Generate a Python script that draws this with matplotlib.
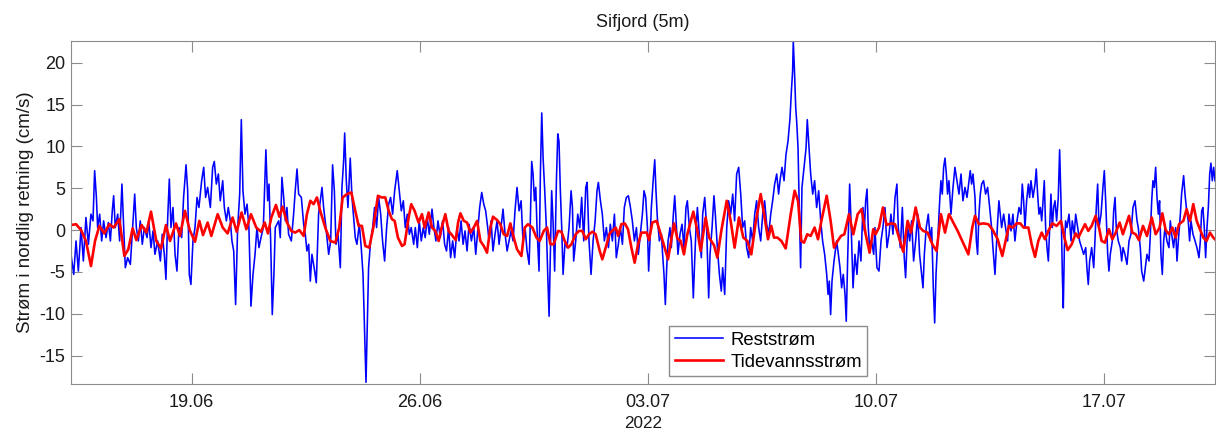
import numpy as np
import matplotlib
matplotlib.use("Agg")
import matplotlib.pyplot as plt
import matplotlib.dates as mdates

plt.rcParams['font.family'] = ['Liberation Sans', 'DejaVu Sans']
plt.rcParams['axes.unicode_minus'] = False

# hours after 2022-06-15 00:00, current (cm/s)
rest_points = [
    (7.1, -2.9), (9.1, -5.3), (10.8, -1.3), (12.5, -4.9), (14.5, 0.3), (16.2, -3.7), (18.1, 1.5), (19.9, -1.7),
    (21.8, 1.9), (23.3, 1.1), (24.5, 7.1), (25.8, 3.9), (26.7, 0.3), (28.2, 1.9), (29.7, -1.3), (31.1, 1.1),
    (32.9, -0.9), (34.6, 0.9), (36.1, -1.3), (37.5, 2.3), (38.5, 4.1), (39.7, 0.3), (41.5, 1.9), (42.9, -1.3),
    (44.6, 5.5), (45.9, 0.3), (47.1, -4.5), (48.8, -3.3), (50.8, -4.1), (52.5, 0.3), (54.0, 4.3), (55.2, 0.3),
    (56.7, -1.3), (58.1, 1.1), (59.6, -1.7), (61.1, 0.3), (63.1, -0.9), (64.3, 1.1), (66.0, -2.1), (67.5, -0.1),
    (68.9, -2.9), (70.9, -1.3), (72.9, -3.7), (74.3, -0.5), (75.8, -2.9), (77.0, -5.9), (78.3, 1.5), (79.5, 6.1),
    (80.7, 0.3), (82.2, 2.7), (83.7, -2.9), (85.1, -4.9), (86.6, 0.3), (88.6, -0.9), (90.0, 3.9), (91.8, 7.8),
    (93.0, 4.7), (94.2, -5.3), (95.4, -6.5), (96.9, -1.3), (98.4, 0.3), (99.9, 3.9), (101.3, 2.7), (103.3, 5.9),
    (104.8, 7.5), (106.2, 3.9), (107.7, 5.1), (109.7, 2.7), (111.4, 7.5), (112.6, 8.2), (114.1, 5.5), (115.6, 6.7),
    (117.0, 3.5), (118.8, 5.9), (120.0, 2.7), (121.5, 1.1), (122.9, 2.7), (124.4, 1.1), (125.6, -1.3), (126.9, -2.5),
    (128.3, -8.9), (129.8, 0.3), (131.3, 4.3), (132.5, 13.2), (133.7, 4.7), (135.2, 1.9), (136.7, 3.1), (138.1, 0.3),
    (139.6, -9.1), (141.1, -5.3), (142.6, -2.9), (144.0, 0.3), (145.5, -2.1), (147.0, -0.9),
    (148.7, 0.3), (150.6, 9.6), (151.9, 3.5), (152.9, 5.5), (154.1, -1.3), (155.3, -10.1), (156.5, -5.3), (157.5, 0.3),
    (160.0, 1.1), (161.2, -0.9), (162.4, 6.3), (163.7, 3.9), (164.9, 1.1), (166.1, 2.7), (167.3, -0.5), (169.3, -1.3),
    (171.0, 1.9), (172.2, 4.7), (173.5, 7.3), (174.7, 4.3), (176.7, 3.9), (178.4, 0.7), (179.6, -0.5), (180.8, -2.5),
    (182.1, -1.7), (183.3, -6.1), (184.5, -2.9), (186.5, -4.9), (187.7, -6.3), (189.4, 1.9), (191.9, 5.1), (193.1, 2.7),
    (194.8, 0.3), (196.8, -2.9), (198.3, -1.3), (199.7, 7.8), (201.0, 4.7), (202.2, -1.7), (203.7, -0.5), (205.4, -4.5),
    (206.6, 5.1), (207.8, 8.2), (208.6, 11.6), (209.8, 5.9), (211.0, 2.7), (212.7, 8.6), (214.0, 3.9), (215.4, 1.1),
    (216.4, -0.9), (217.6, -1.7), (219.4, 0.7), (220.8, -2.1), (222.1, -5.3), (223.3, -12.5), (224.3, -18.2),
    (225.5, -9.3), (226.2, -4.5), (227.7, -1.3), (229.2, 0.3), (230.6, 2.7), (232.1, 0.3), (233.6, 3.9), (235.1, 1.9),
    (236.5, -1.3), (238.0, -3.7), (239.5, 0.3), (241.0, 3.1), (242.4, 3.9), (243.9, 1.9), (245.4, 4.7), (247.3, 7.1),
    (248.8, 4.7), (250.3, 2.3), (251.8, 3.5), (253.2, 0.3), (254.7, 1.9), (256.2, -0.5), (257.6, 0.3), (259.4, -1.7),
    (260.6, 0.3), (262.1, -2.1), (263.5, 1.1), (265.0, -1.3), (266.5, 0.3), (267.9, -0.9), (269.4, 1.5), (270.9, -0.5),
    (272.9, 2.5), (274.3, 0.3), (275.8, -1.3), (277.3, 1.1), (279.0, -0.9), (280.7, 1.1), (282.2, -1.7), (283.6, -2.5),
    (285.1, 0.3), (286.6, -3.3), (288.1, -1.3),
    (289.6, -3.3), (291.3, 0.3), (292.8, -1.3), (294.3, 1.1), (295.8, -1.7), (297.2, -0.1), (298.7, -2.5), (300.2, 0.7),
    (301.9, -1.3), (303.6, 0.3), (305.1, -2.9), (306.8, 0.3), (308.0, 2.7), (309.5, 4.5), (311.0, 3.1), (312.4, 2.3),
    (313.9, 0.3), (314.9, -1.3), (316.4, 1.1), (317.8, -2.5), (319.3, -0.5), (320.8, 1.1), (322.3, -1.7), (323.7, 0.3),
    (325.2, 2.5), (326.7, -0.5), (328.2, -2.5), (329.6, -1.3), (331.1, -0.1), (332.6, -1.3), (334.0, 2.3), (335.5, 5.1),
    (337.0, 2.3), (338.5, 3.5), (339.9, -1.3), (341.4, 0.3), (342.9, -2.5), (344.4, -4.1), (345.3, 1.1), (346.3, 8.2),
    (347.3, 6.7), (348.3, 3.5), (349.3, 5.1), (350.2, 0.3), (351.7, -4.9), (352.7, 6.7), (353.7, 14.0), (354.7, 8.6),
    (355.9, 4.7), (357.1, 0.3), (358.1, -5.3), (359.1, -10.3), (360.1, -2.1), (361.0, 4.7), (362.0, 1.1), (363.2, -4.9),
    (364.5, 5.9), (365.5, 11.5), (366.4, 10.6), (367.4, 4.7), (368.4, 0.3), (369.4, -5.3), (370.9, -1.3), (372.3, -2.1),
    (373.8, 0.3), (375.3, 4.7), (376.3, 2.7), (377.2, -3.7), (378.7, -1.3), (380.2, 1.9), (381.7, 0.3), (383.1, 3.9),
    (384.6, -1.3), (386.1, 5.1), (387.1, 5.7), (388.5, -1.3), (390.0, -5.3), (391.5, -1.3), (393.0, 1.1), (394.4, 4.7),
    (395.4, 5.7), (396.9, 3.5), (398.3, 1.9), (399.8, -1.3), (401.3, 0.3), (402.8, -2.1), (404.2, 0.7), (405.7, -1.3),
    (407.2, 1.9), (408.6, -3.3), (410.1, -1.7), (411.6, 0.3), (413.1, -1.7), (414.5, 2.7), (416.0, 3.9), (417.5, 4.1),
    (419.0, 2.7), (420.4, 1.1), (421.9, -1.3), (423.4, 0.3), (424.8, -2.9), (426.3, -0.5), (427.8, 1.9),
    (429.0, 4.7), (430.2, 3.9), (431.5, 0.3), (432.4, -4.9), (433.4, -1.3), (434.4, 2.7), (435.9, 6.3), (436.9, 8.4),
    (437.8, 4.7), (438.8, 1.5), (440.3, -1.3), (441.8, -0.5), (442.7, -2.9), (443.7, -5.3), (444.7, -8.9), (445.7, -4.5),
    (446.7, -1.3), (448.1, 0.3), (449.1, -2.1), (450.6, 1.9), (451.6, 4.1), (452.6, 1.1), (454.0, -2.9), (455.5, -0.5),
    (457.0, 0.7), (458.4, -2.1), (459.9, 2.7), (460.9, 3.5), (462.4, 0.3), (463.8, -1.3), (465.3, -8.1), (466.3, -3.7),
    (467.3, 0.3), (468.3, 2.7), (469.7, -0.5), (471.2, -3.3), (472.2, 1.9), (473.7, 3.9), (475.1, 0.3), (476.6, -8.1),
    (477.6, -2.9), (479.1, 0.3), (480.5, 4.1), (481.5, 1.9), (483.0, -2.1), (484.5, -5.3), (485.9, -7.3), (486.9, -4.5),
    (488.4, -7.7), (489.9, 0.3), (491.3, 3.5), (492.8, 1.9), (494.3, 4.3), (495.7, 1.1), (497.2, 6.7), (498.7, 7.5),
    (500.2, 4.3), (501.6, 0.3), (503.1, 1.1), (504.6, -2.1), (506.1, -3.3), (507.5, 0.3), (509.0, -1.3), (510.5, 1.9),
    (511.9, 3.5), (513.4, 0.3), (514.9, -1.3), (516.4, 1.9), (517.8, 3.5), (519.3, 0.7), (520.8, -0.5), (522.3, 1.9),
    (523.7, 3.5), (525.2, 5.5), (526.7, 6.7), (528.1, 4.3), (529.1, 5.9), (530.6, 7.5), (532.1, 5.9), (533.5, 9.0),
    (535.0, 10.6), (536.5, 13.4), (537.5, 16.6), (538.4, 19.0), (538.9, 22.6), (539.7, 19.4), (540.7, 14.6),
    (541.4, 13.0), (542.4, 9.8), (543.4, 1.9), (544.3, -4.5), (545.3, 5.1), (546.8, 7.5), (548.3, 9.8), (549.2, 13.2),
    (550.2, 10.6), (551.7, 6.7), (553.2, 4.3), (554.6, 5.9), (556.1, 2.7), (557.6, 4.7), (559.1, 1.1), (560.5, -1.3),
    (562.0, -2.9), (563.5, -5.3), (564.5, -7.7), (565.4, -6.1), (566.4, -10.1), (567.4, -6.1), (568.9, -3.7),
    (570.8, -1.3), (572.1, -2.9), (573.3, -4.5), (574.5, -6.9), (575.7, -5.3), (577.0, -7.7), (577.9, -10.9),
    (578.9, -3.7), (580.4, 5.5), (581.4, 1.1), (582.9, -6.9), (584.3, -2.9), (585.8, -5.3), (587.3, -1.3), (588.7, -3.7),
    (590.2, 2.7), (591.2, -0.1), (592.2, 3.5), (593.2, 4.9), (594.1, 0.3), (595.1, -2.1), (596.6, -1.3), (598.1, -2.9),
    (599.0, 0.3), (600.5, -4.5), (602.0, -4.9), (603.5, -1.3), (604.9, 0.3), (606.4, 2.7), (607.9, -2.1), (609.4, -0.5),
    (610.8, 1.9), (612.3, -0.5), (613.8, 3.9), (615.2, 5.5), (616.2, 0.3), (617.7, -2.1), (619.2, 2.7), (620.6, -3.3),
    (621.6, -5.7), (623.1, 0.3), (624.6, -1.3), (626.0, 1.1), (627.5, -3.7), (629.0, -1.3), (630.5, 1.9), (631.9, -2.9),
    (633.4, -5.3), (634.4, -6.9), (635.4, -2.9), (636.8, 0.3), (638.3, 1.9), (639.8, -1.3), (640.8, 0.3), (642.0, -6.9),
    (643.0, -11.1), (644.0, -5.3), (645.2, -1.3), (646.7, 3.5), (647.6, 5.9), (648.6, 4.3), (649.6, 7.5), (650.6, 8.6),
    (651.6, 6.7), (652.5, 4.3), (653.5, 5.9), (655.0, 1.9), (656.5, 5.1), (657.9, 7.5), (659.4, 5.9), (660.9, 4.3),
    (662.4, 6.7), (663.8, 3.5), (665.3, 5.1), (666.8, 3.9), (668.3, 5.9), (669.2, 7.1), (670.2, 5.5), (671.2, 6.7),
    (672.7, 3.9), (673.7, -1.3), (674.6, -2.9), (675.6, 1.9), (676.6, 4.3), (677.6, 5.5), (679.0, 5.9), (680.5, 4.3),
    (682.0, 5.1), (683.5, 2.7), (684.9, 0.3), (685.9, -2.1), (687.4, -5.3), (688.4, -2.1), (689.4, 1.1), (690.3, 3.5),
    (691.3, 1.9), (692.3, 0.3), (693.8, 1.9), (695.2, 0.3), (696.7, -1.3), (697.7, 1.9), (699.2, -0.1), (700.6, 1.9),
    (702.1, -1.3), (703.6, 1.1), (705.1, 2.7), (706.5, 1.9), (707.5, 5.5), (708.5, 3.5), (709.5, 0.3),
    (710.7, 3.5), (712.0, 5.5), (712.9, 3.9), (713.9, 5.9), (715.4, 3.9), (716.9, 5.5), (717.8, 7.3), (718.8, 4.3),
    (719.8, 1.9), (720.8, 2.7), (721.8, 1.1), (722.8, 3.5), (723.7, 5.9), (724.7, 0.3), (725.7, -2.1), (726.7, -3.7),
    (727.7, 0.3), (728.6, 4.3), (729.6, 0.3), (730.6, 2.7), (731.6, 3.5), (732.8, 1.1), (734.0, 3.9), (735.0, 9.6),
    (736.0, 3.5), (737.0, -5.3), (737.7, -9.3), (738.5, -2.1), (739.4, 1.1), (740.4, 0.3), (741.9, 1.9), (743.4, -1.3),
    (744.3, 1.1), (745.8, -0.5), (746.8, 1.9), (748.3, 0.3), (749.7, -1.3), (751.2, -2.1), (752.7, -2.9), (754.2, -2.1),
    (755.1, -4.5), (756.1, -6.5), (757.1, -3.7), (758.6, -2.1), (760.1, -4.5), (761.0, -1.3), (762.0, 2.7), (763.0, 5.5),
    (764.0, 0.3), (765.5, 1.9), (766.9, 5.1), (767.9, 7.1), (768.9, 3.5), (770.4, -2.9), (771.3, -4.9), (772.3, -2.9),
    (773.8, -1.3), (774.8, 2.3), (775.8, 3.9), (776.7, 0.3), (778.2, -1.3), (779.7, -2.1), (780.7, -3.7), (781.7, -2.1),
    (783.1, -2.9), (784.6, -4.1), (786.1, -1.3), (787.5, -0.5), (789.0, 2.7), (790.5, 3.5), (792.0, 1.1), (792.9, 0.3),
    (794.4, -2.1), (795.4, -4.9), (796.9, -6.1), (797.8, -4.9), (799.3, -2.9), (800.8, -3.7), (801.8, -0.5), (802.8, 3.5),
    (803.7, 5.9), (804.7, 5.1), (805.7, 7.5), (806.7, 3.9), (807.7, 1.9), (808.6, 3.5), (809.6, -2.9), (810.6, -5.3),
    (811.6, -1.3), (812.6, 0.3), (814.0, -1.3), (815.5, -2.1), (816.5, 1.1), (817.5, -0.5), (818.9, -2.1), (820.4, 0.3),
    (821.4, -3.7), (822.4, -1.3), (823.9, 1.9), (824.8, 4.3), (826.3, 6.5), (827.3, 4.3), (828.3, 2.7), (829.7, 1.1),
    (830.7, -1.3), (831.7, 1.1), (833.2, -0.5), (834.7, -1.3), (836.1, -2.1), (837.6, -3.3), (838.6, -1.3), (839.6, 2.3),
    (840.5, 2.7), (841.5, 0.3), (842.5, -3.3), (843.5, 0.3), (844.5, 2.7), (845.5, 6.7), (846.4, 8.0), (847.4, 5.9),
    (848.4, 7.5), (849.4, 5.9),
]

tide_points = [
    (7.1, 0.6), (10.8, 0.7), (14.5, 0.0), (18.1, -1.3), (21.8, -4.3), (24.8, -1.3), (28.0, 0.5), (31.6, -0.4),
    (35.3, 0.7), (38.5, 0.3), (42.7, 1.3), (46.4, -3.1), (49.3, -2.3), (52.5, 0.2), (55.2, -1.2), (59.1, 0.6),
    (62.6, -0.3), (66.0, 2.2), (69.9, -1.3), (73.4, -2.2), (77.0, 0.6), (80.0, -1.3), (84.4, 0.8), (87.3, -0.7),
    (91.0, 2.3), (94.5, 0.0), (98.4, -1.4), (101.6, 1.1), (104.3, -0.6), (107.7, 0.9), (110.4, -0.7), (115.1, 1.9),
    (118.8, 0.3), (122.4, -0.4), (126.1, 1.5), (129.1, -0.2), (132.7, 2.1), (136.2, 0.1), (139.6, 1.9), (143.5, 0.3),
    (147.0, -0.2), (149.7, 0.9), (152.1, -0.4), (154.6, 1.5), (158.0, 3.0), (160.5, 1.6), (162.9, 2.8), (166.1, 0.9),
    (169.3, -0.1), (172.2, -0.3), (175.2, 0.0), (178.4, -0.7), (180.8, 1.9), (183.3, 3.5), (185.7, 3.1), (188.2, 3.9),
    (190.6, 2.3), (194.3, 0.3), (198.0, -1.3), (201.7, -1.5), (204.6, 0.3), (207.1, 3.9), (210.3, 4.3), (213.5, 4.5),
    (216.4, 2.3), (218.9, 0.5), (221.3, 0.5), (223.8, -1.9), (226.7, -2.1), (229.7, 0.3), (233.1, 4.1), (235.6, 3.9),
    (238.5, 3.9), (241.0, 2.3), (243.4, 1.3), (245.4, 1.1), (247.8, -0.9), (250.8, -1.9), (252.7, -1.7), (255.7, 1.5),
    (257.6, 3.1), (260.1, 2.3), (263.0, 0.9), (265.5, 1.9), (267.5, 0.3), (270.4, 2.1), (272.9, 0.3), (275.3, -0.1),
    (277.8, -1.3), (279.7, 0.1), (282.7, 1.9), (285.1, -0.1), (287.1, -0.5),
    (290.4, -1.2), (292.1, 0.9), (293.8, 2.0), (296.3, 1.1), (298.7, 0.9), (301.2, -0.3), (303.6, 0.3), (306.1, 1.1),
    (308.5, -1.3), (311.0, -1.9), (313.4, -2.7), (315.9, 0.3), (317.8, 1.6), (320.8, 1.2), (323.2, 0.7), (325.7, -0.5),
    (328.2, -0.7), (330.6, 0.8), (333.1, -0.9), (335.5, -2.3), (338.7, -3.1), (341.2, 0.3), (343.6, 0.7), (346.8, 0.3),
    (349.8, -0.9), (352.2, -1.3), (355.2, -0.1), (357.6, 0.3), (360.1, -1.7), (362.5, -1.7), (365.7, -0.1),
    (368.2, -0.2), (370.6, -1.3), (373.1, -2.1), (375.5, -1.7), (378.7, -0.5), (381.2, -0.1), (383.6, -0.1),
    (386.1, -1.1), (388.5, -0.5), (391.0, -0.2), (393.4, -0.5), (396.4, -2.5), (398.3, -3.5), (400.8, -2.1),
    (403.7, -0.4), (406.2, 0.0), (408.2, 0.3), (409.9, -0.7), (412.3, 0.7), (414.8, 0.8), (417.2, 0.1), (419.7, -2.1),
    (422.1, -3.9), (424.6, -1.7), (427.1, -0.3),
    (431.0, -0.3), (432.7, -1.2), (435.1, 0.9), (438.3, 1.1), (441.3, -0.5), (444.2, -2.1), (446.7, -3.5),
    (449.1, -1.1), (451.1, 0.8), (453.5, -1.0), (456.0, -1.3), (458.4, -2.9), (460.9, -0.5), (465.3, 2.2),
    (468.3, -0.1), (470.7, -2.5), (474.4, 1.5), (476.9, -0.9), (480.5, -1.8), (483.0, -3.3), (485.9, -0.1),
    (489.9, 3.5), (492.8, 1.1), (495.7, -2.1), (498.9, 1.5), (502.1, -0.9), (505.1, -1.3), (508.0, -2.9),
    (511.2, 0.9), (514.9, 4.3), (517.8, 1.5), (520.3, -1.1), (522.7, 0.5), (524.7, -0.9), (527.2, -0.9),
    (530.1, -1.3), (533.3, -2.2), (537.0, 1.9), (539.9, 4.7), (542.4, 3.5), (544.8, -1.3), (546.8, -1.5),
    (549.2, -0.5), (551.7, -0.7), (554.6, 0.3), (557.1, -1.1), (559.6, 1.1), (563.5, 4.1), (566.4, 1.1),
    (568.9, -2.1),
    (571.6, -1.3), (574.0, -0.7), (576.5, -0.5), (579.9, 1.9), (583.1, -0.5), (586.3, 1.9), (589.2, 2.5),
    (592.2, -0.5), (595.1, -2.7), (597.8, 0.1), (599.5, -0.5), (602.0, 0.3), (604.9, 2.7), (607.6, 0.6),
    (610.8, 0.8), (613.8, 0.7), (617.5, -1.3), (619.9, -2.6), (623.1, 1.1), (625.6, -0.3), (629.0, 2.7),
    (632.2, 0.3), (634.6, -0.1), (637.8, -0.3), (641.3, -1.7), (644.4, -2.5), (647.6, 1.9), (650.6, -0.3),
    (653.5, 1.9), (656.7, 0.9), (659.9, -0.1), (663.3, -1.3), (667.8, -2.9), (670.7, 0.3), (672.7, 1.7),
    (675.6, 0.7), (678.8, 0.8), (682.5, 0.7), (685.4, 0.1), (689.4, -1.1), (692.8, -3.1), (695.2, -1.3),
    (697.7, 0.5), (700.6, 0.3), (703.3, 0.8), (706.0, 0.8), (708.5, 0.3),
    (712.0, 0.3), (714.4, -1.7), (716.9, -3.2), (719.3, -1.3), (721.8, -0.3), (724.2, -1.1), (726.7, -0.1),
    (729.6, 0.8), (732.8, 0.5), (736.0, 1.1), (738.5, -0.9), (740.9, -2.4), (743.9, -1.7), (746.8, -0.4),
    (748.8, -0.9), (751.2, -0.1), (753.7, 0.7), (756.1, -0.1), (758.6, 0.5), (761.5, 1.7), (764.0, 0.3),
    (765.9, -1.3), (768.4, -1.5), (771.3, 0.1), (773.8, -1.1), (776.3, -0.3), (779.2, 0.9), (781.6, -0.5),
    (784.1, 0.7), (786.1, 1.7), (788.5, -0.3), (791.0, -0.5), (793.4, -1.2), (796.4, 0.5), (799.3, -0.7),
    (802.8, 1.5), (805.7, -0.5), (808.6, 0.3), (810.6, 2.0), (813.1, 0.0), (815.5, -0.5), (818.0, 0.3),
    (820.4, -0.9), (822.9, 0.7), (826.1, 1.1), (828.5, 2.5), (831.0, 1.1), (833.4, 3.1), (835.9, 1.1),
    (838.3, 0.1), (840.8, -0.9), (843.2, -1.3), (845.7, -0.3), (848.1, -0.9), (849.4, -1.1),
]

start = np.datetime64('2022-06-15T00:00')


def to_time(points):
    hours = np.array([p[0] for p in points])
    vals = np.array([p[1] for p in points])
    t = start + np.round(hours * 60).astype('timedelta64[m]')
    return t, vals


t_rest, v_rest = to_time(rest_points)
t_tide, v_tide = to_time(tide_points)

fig = plt.figure(figsize=(12.16, 4.32), dpi=100)
ax = fig.add_axes([71 / 1216, 48 / 432, 1144 / 1216, 343 / 432])

ax.plot(t_rest, v_rest, color='#0000ff', lw=1.15, label='Reststrøm')
ax.plot(t_tide, v_tide, color='#ff0000', lw=1.9, label='Tidevannsstrøm',
        solid_joinstyle='round')

# tight axes like the original
ax.set_xlim(t_rest[0], t_rest[-1])
ax.set_ylim(v_rest.min() - 0.2, v_rest.max())
ax.set_yticks(np.arange(-15, 21, 5))
ax.xaxis.set_major_locator(mdates.WeekdayLocator(byweekday=mdates.SU))
ax.xaxis.set_major_formatter(mdates.DateFormatter('%d.%m'))

for s in ax.spines.values():
    s.set_color('#8c8c8c')
ax.tick_params(direction='in', length=8, top=True, right=True, color='#8c8c8c',
               labelcolor='#1a1a1a', labelsize=13)
ax.tick_params(axis='x', pad=7)
ax.tick_params(axis='y', pad=4)

ax.set_title('Sifjord (5m)', fontsize=13, pad=10, color='#1a1a1a')
ax.set_ylabel('Strøm i nordlig retning (cm/s)', fontsize=13.5, labelpad=4, color='#1a1a1a')
ax.text(0.5, -0.114, '2022', transform=ax.transAxes, ha='center', va='center',
        fontsize=12.3, color='#1a1a1a')

leg = ax.legend(loc='lower left', bbox_to_anchor=(0.523, 0.023), borderaxespad=0,
                fontsize=13.3, fancybox=False, edgecolor='#8c8c8c', framealpha=1,
                borderpad=0.3, handlelength=2.6, handletextpad=0.4, labelspacing=0.25)
leg.get_frame().set_linewidth(1.0)

fig.savefig('out.png', dpi=100)
